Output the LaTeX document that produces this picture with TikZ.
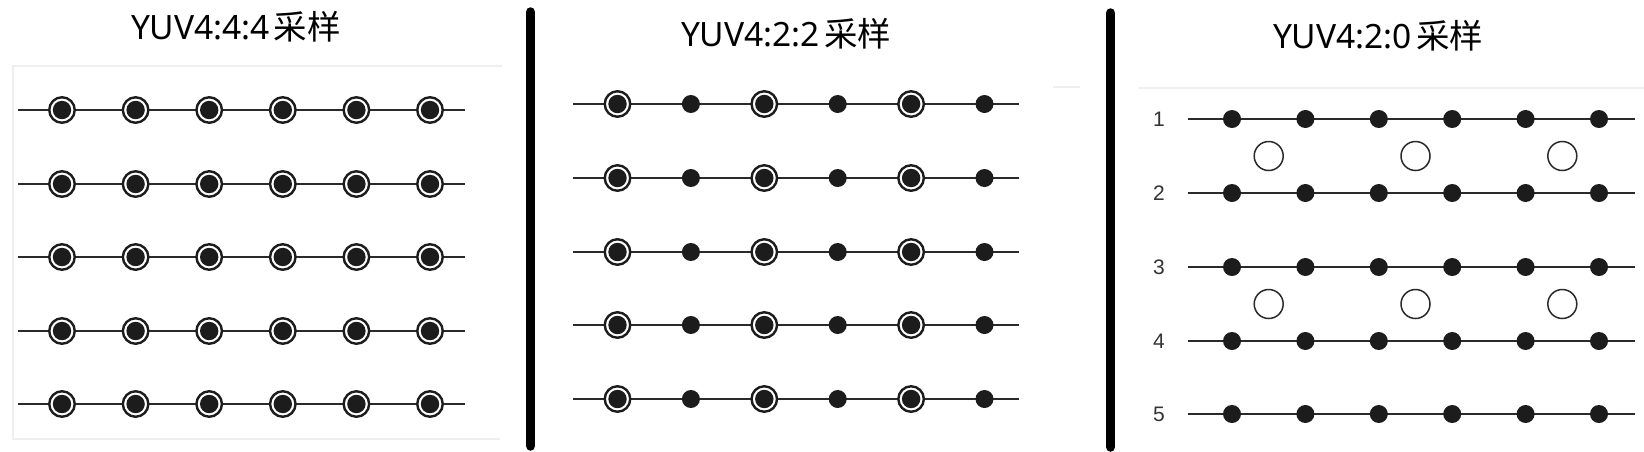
\documentclass[tikz,border=0pt]{standalone}
\usepackage{fontspec}
\newfontfamily\latinf{Noto Sans}
\newfontfamily\cjkf{Noto Sans CJK SC}
\newfontfamily\labf{Liberation Sans}
\definecolor{dotc}{HTML}{1C1C1C}
\definecolor{linec}{HTML}{2A2A2A}
\definecolor{faint}{HTML}{EDEFF3}
\definecolor{labc}{HTML}{333333}
\begin{document}
\begin{tikzpicture}[x=1pt,y=-1pt,
  rowline/.style={draw=linec,line width=2pt},
  ring/.style={circle,draw=dotc,line width=2.4pt,fill=white,minimum size=25.5pt,inner sep=0pt,
    path picture={\fill[dotc] (path picture bounding box.center) circle (9.2pt);}},
  sdot/.style={circle,fill=dotc,minimum size=18pt,inner sep=0pt},
  ocirc/.style={circle,draw=linec,line width=1.5pt,fill=white,minimum width=29pt,minimum height=27pt,inner sep=0pt},
  divider/.style={line width=9.5pt,line cap=round,black},
  faintline/.style={draw=faint,line width=1.6pt},
  ttl/.style={anchor=base,inner sep=0pt,font=\fontsize{33.5}{40}\selectfont},
  lab/.style={inner sep=0pt,text=labc,font=\labf\fontsize{21}{25}\selectfont}]
\useasboundingbox (0,0) rectangle (1644,451);
\fill[white] (0,0) rectangle (1644,451);
% faint frames
\coordinate (f1a) at (502,66); \coordinate (f1b) at (13,66);
\coordinate (f1c) at (13,439); \coordinate (f1d) at (500,439);
\draw[faintline] (f1a) -- (f1b) -- (f1c) -- (f1d);
\coordinate (f2a) at (1053,87); \coordinate (f2b) at (1080,87);
\draw[faintline] (f2a) -- (f2b);
\coordinate (f3a) at (1138,88); \coordinate (f3b) at (1644,88);
\draw[faintline] (f3a) -- (f3b);
% dividers
\coordinate (d1t) at (530.5,12); \coordinate (d1b) at (530.5,446);
\coordinate (d2t) at (1110.5,13); \coordinate (d2b) at (1110.5,447);
\draw[divider] (d1t) -- (d1b);
\draw[divider] (d2t) -- (d2b);
% titles
\node[ttl] (t1) at (236,39) {{\latinf YUV4:4:4}\hspace{4pt}{\cjkf 采样}};
\node[ttl] (t2) at (786,46) {{\latinf YUV4:2:2}\hspace{4pt}{\cjkf 采样}};
\node[ttl] (t3) at (1378,48) {{\latinf YUV4:2:0}\hspace{4pt}{\cjkf 采样}};
% panel 1: 4:4:4
\foreach \r/\y in {1/110,2/184,3/257,4/331,5/404}{
  \coordinate (a\r s) at (18,\y); \coordinate (a\r e) at (465,\y);
  \draw[rowline] (a\r s) -- (a\r e);
  \foreach \c in {0,...,5}{
    \node[ring] (a\r-\c) at ({62+73.6*\c},\y) {};
  }
}
% panel 2: 4:2:2
\foreach \r/\y in {1/104,2/178,3/252,4/325,5/399}{
  \coordinate (b\r s) at (573,\y); \coordinate (b\r e) at (1019,\y);
  \draw[rowline] (b\r s) -- (b\r e);
  \foreach \c in {0,2,4}{
    \node[ring] (b\r-\c) at ({617.5+73.4*\c},\y) {};
  }
  \foreach \c in {1,3,5}{
    \node[sdot] (b\r-\c) at ({617.5+73.4*\c},\y) {};
  }
}
% panel 3: 4:2:0
\foreach \r/\y in {1/119,2/193,3/267,4/341,5/414}{
  \node[lab] (l\r) at (1159,\y) {\r};
  \coordinate (c\r s) at (1188,\y); \coordinate (c\r e) at (1635,\y);
  \draw[rowline] (c\r s) -- (c\r e);
  \foreach \c in {0,...,5}{
    \node[sdot] (c\r-\c) at ({1232+73.4*\c},\y) {};
  }
}
\foreach \k/\y in {1/156,2/304}{
  \foreach \c in {0,2,4}{
    \node[ocirc] (o\k-\c) at ({1232+73.4*\c+36.7},\y) {};
  }
}
\end{tikzpicture}
\end{document}
